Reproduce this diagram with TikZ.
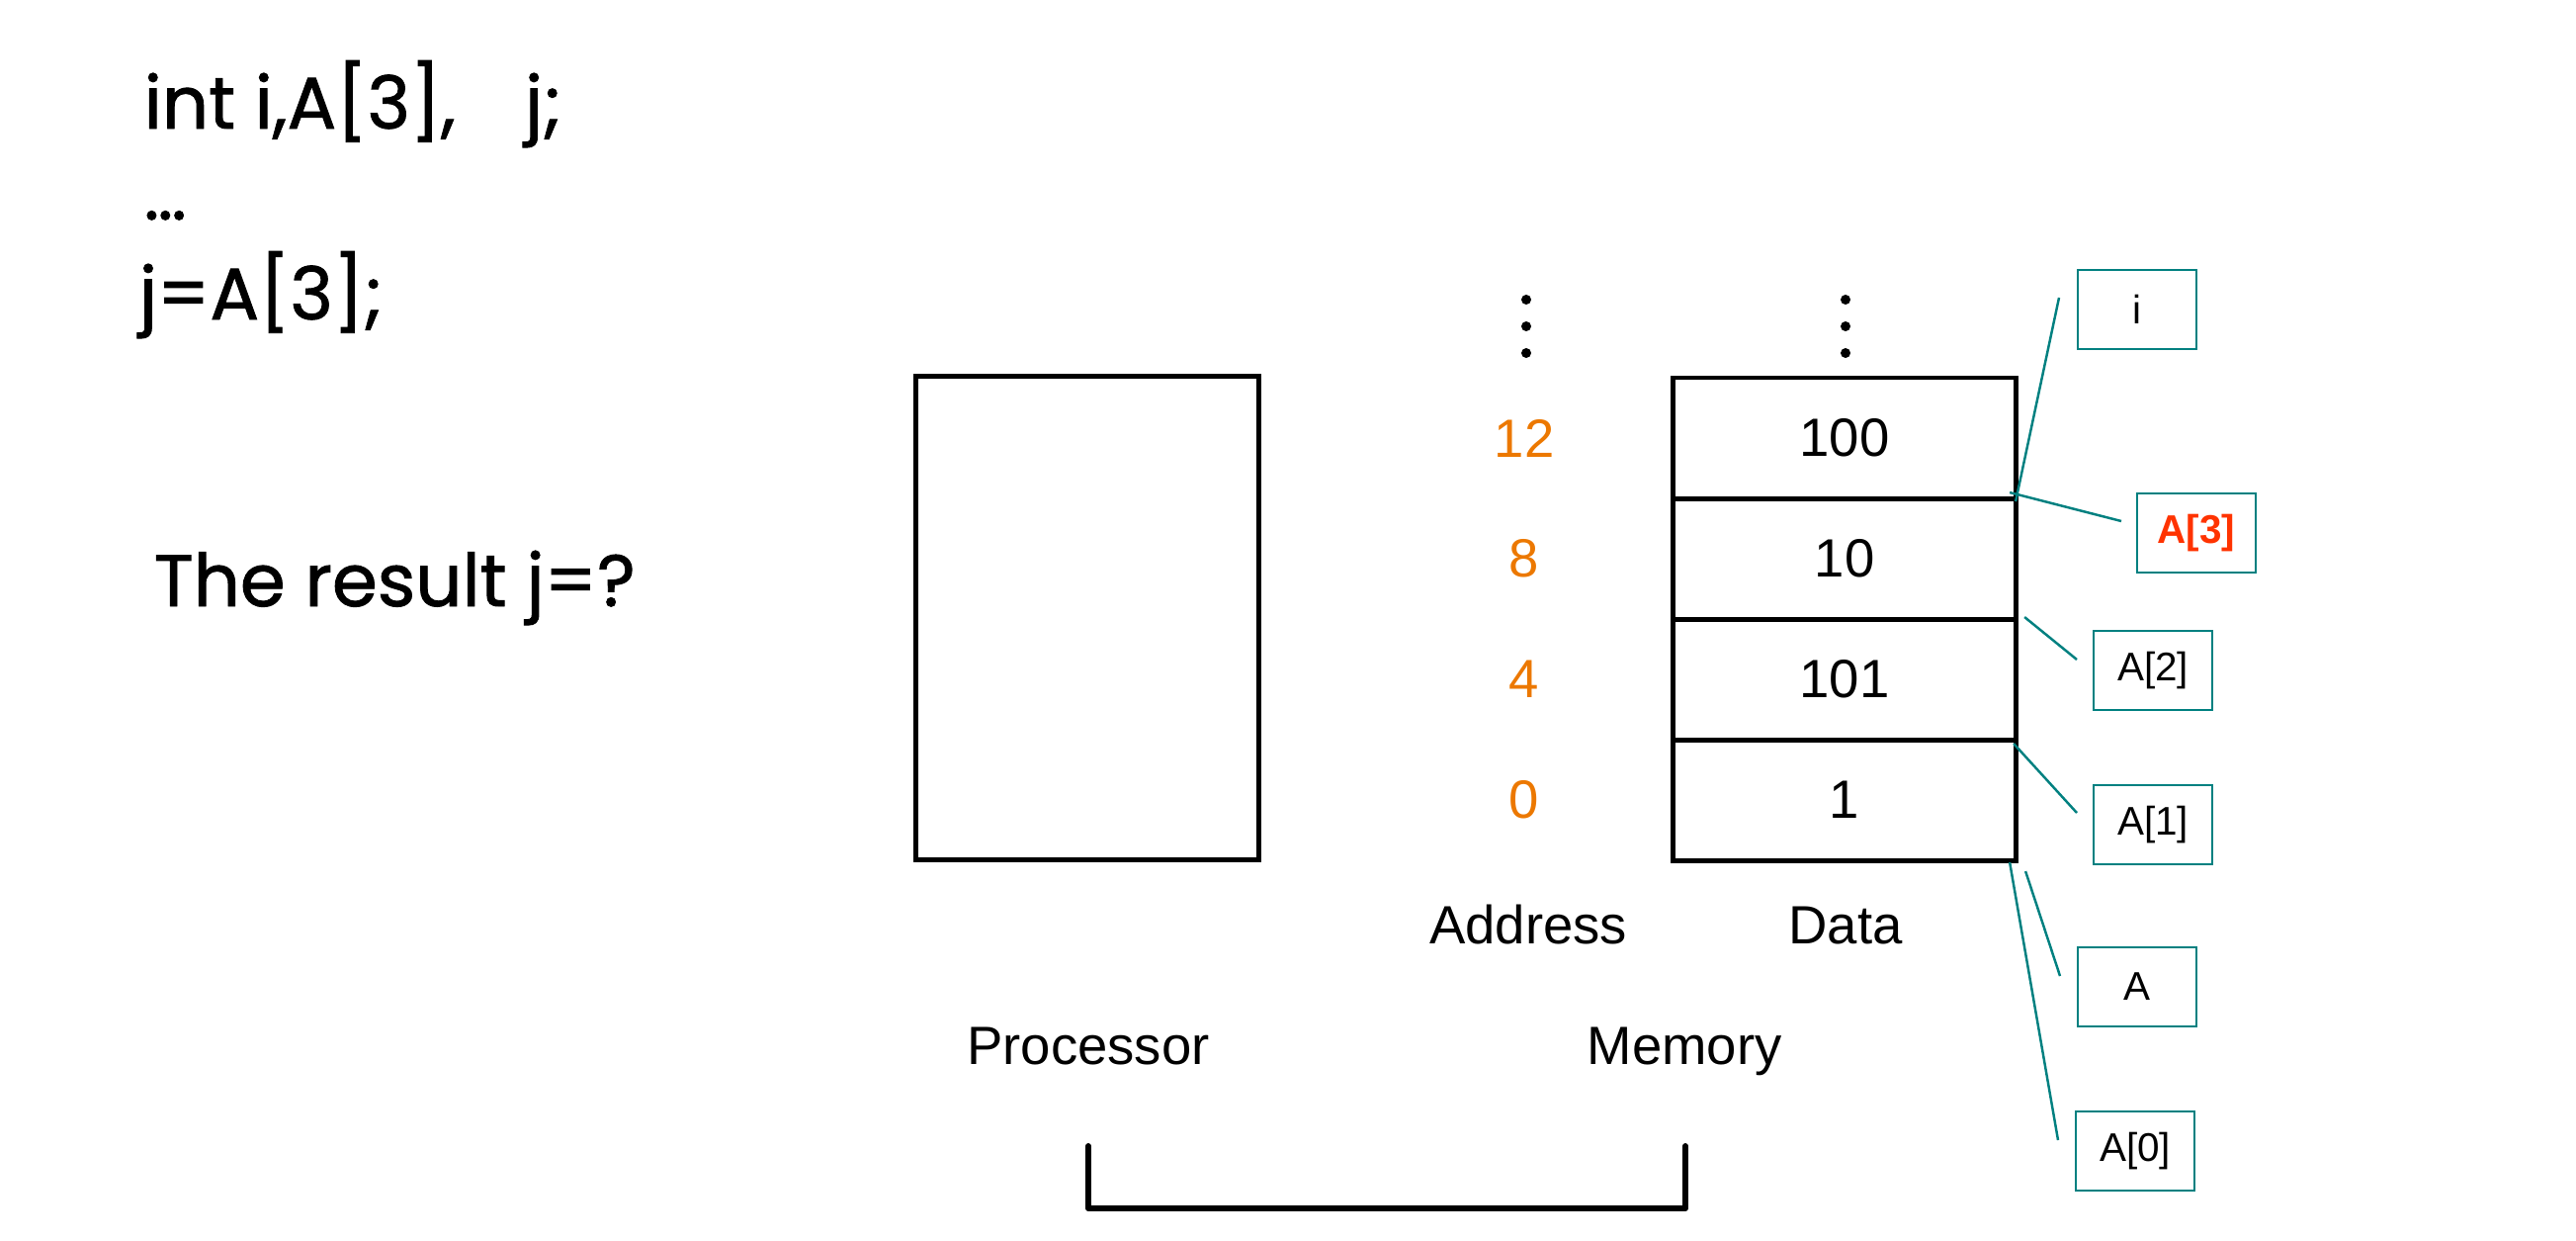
\documentclass[tikz,border=0pt]{standalone}
\usepackage{fontspec}
\setmainfont{Liberation Sans}
\newfontfamily\codefont[FakeBold=1.2]{Poppins}
\usepackage{xcolor}
\usetikzlibrary{positioning, calc}
\definecolor{addrorange}{RGB}{236,120,0}
\definecolor{calloutteal}{RGB}{0,128,128}
\definecolor{hotred}{RGB}{255,51,0}

\begin{document}
\begin{tikzpicture}[x=0.01cm, y=-0.01cm,
    cell/.style={draw, line width=1.4pt, minimum width=3.46cm, minimum height=1.22cm,
      inner sep=0pt, outer sep=0pt, font=\fontsize{15.5}{18}\selectfont},
    addr/.style={text=addrorange, font=\fontsize{15.5}{18}\selectfont},
    caption/.style={font=\fontsize{15.5}{18}\selectfont},
    tag/.style={draw=calloutteal, line width=0.5pt, minimum width=1.2cm, minimum height=0.8cm,
      inner sep=0pt, font=\fontsize{11.5}{14}\selectfont},
    lead/.style={calloutteal, line width=0.7pt},
    code/.style={anchor=base west, inner sep=0pt, font=\codefont\fontsize{21}{25}\selectfont}]
  \useasboundingbox (0,0) rectangle (2606,1254);

  % Code lines
  \node[code] (decl) at (145,130) {int i,A[3],\hspace{0.7cm}j;};
  \node[code] (dots) at (145,222) {\ldots};
  \node[code] (assign) at (140,323) {j=A[3];};
  \node[code] (question) at (155,613) {The result j=?};

  % Processor
  \node[draw, line width=1.4pt, minimum width=3.46cm, minimum height=4.88cm,
    inner sep=0pt] (cpu) at (1100,625) {};

  % Memory cells
  \node[cell] (cell3) at (1866,443) {100};
  \node[cell] (cell2) at (1866,565) {10};
  \node[cell] (cell1) at (1866,687) {101};
  \node[cell] (cell0) at (1866,809) {1};

  % Addresses
  \node[addr] (addr3) at (1542,443) {12};
  \node[addr] (addr2) at (1542,565) {8};
  \node[addr] (addr1) at (1542,687) {4};
  \node[addr] (addr0) at (1542,809) {0};

  % More memory above
  \foreach \y in {303,330,357} {
    \fill (1544,\y) circle (5);
    \fill (1867,\y) circle (5);
  }

  % Labels
  \node[caption, anchor=base] at (1546,954) {Address};
  \node[caption, anchor=base] at (1867,954) {Data};
  \node[caption, anchor=base] at (1101,1076) {Processor};
  \node[caption, anchor=base] at (1704,1076) {Memory};

  % Bus
  \coordinate (busL) at (1101,1159);
  \coordinate (busR) at (1705,1159);
  \draw[line width=1.7pt, line cap=round, line join=round]
    (busL) -- (busL |- 0,1222) -- (busR |- 0,1222) -- (busR);

  % Variable tags
  \node[tag] (tagi) at (2162,313) {i};
  \node[tag, text=hotred, font=\fontsize{11.5}{14}\selectfont\bfseries] (tagA3) at (2222,539) {A[3]};
  \node[tag] (tagA2) at (2178,678) {A[2]};
  \node[tag] (tagA1) at (2178,834) {A[1]};
  \node[tag] (tagA) at (2162,998) {A};
  \node[tag] (tagA0) at (2160,1164) {A[0]};

  % Tag leaders
  \coordinate (li) at (2083,301);
  \coordinate (lA3) at (2146,527);
  \coordinate (lA2) at (2101,667);
  \coordinate (lA1) at (2101,822);
  \coordinate (lA) at (2084,987);
  \coordinate (lA0) at (2082,1153);
  \draw[lead] (li) -- ($(cell3.south east)+(0,3)$);
  \draw[lead] ($(cell3.south east)+(-6,-6)$) -- (lA3);
  \draw[lead] ($(cell2.south east)+(9,-2)$) -- (lA2);
  \draw[lead] ($(cell1.south east)+(-2,4)$) -- (lA1);
  \draw[lead] ($(cell0.south east)+(10,11)$) -- (lA);
  \draw[lead] ($(cell0.south east)+(-6,2)$) -- (lA0);
\end{tikzpicture}
\end{document}
